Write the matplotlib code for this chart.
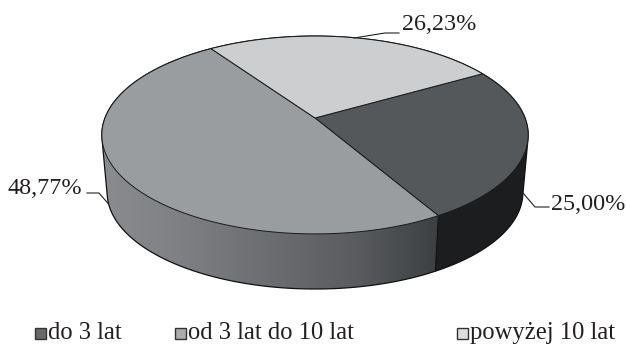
import numpy as np
import matplotlib
matplotlib.use("Agg")
import matplotlib.pyplot as plt
from matplotlib.colors import LinearSegmentedColormap
from matplotlib.patches import Polygon

plt.rcParams['font.family'] = ['Liberation Serif', 'DejaVu Serif']

labels = ['do 3 lat', 'od 3 lat do 10 lat', 'powyżej 10 lat']
values = [25.00, 48.77, 26.23]
value_labels = ['25,00%', '48,77%', '26,23%']
top_colors = ['#54585a', '#9a9da0', '#cdced0']
legend_colors = ['#66686a', '#aaacae', '#dddee0']
start_angle = 30.0

# pie disc in perspective, everything in pixels
apex = (315.0, 118.0)
rx, ry, persp = 210.0, 96.0, 0.1717
depth, shrink = 58.0, 0.975


def rim(angle, lower=False):
    t = np.radians(angle)
    u, v = np.cos(t), np.sin(t)
    w = 1 + persp * v
    x, y = rx * u / w, -ry * v / w
    if lower:
        return apex[0] + x * shrink, apex[1] + depth + y * shrink
    return apex[0] + x, apex[1] + y


def hull(points):
    # monotone chain, the wall outline is the hull of both rims
    pts = sorted(set(map(tuple, points)))

    def half(seq):
        out = []
        for p in seq:
            while len(out) > 1 and np.cross(np.subtract(out[-1], out[-2]), np.subtract(p, out[-2])) <= 0:
                out.pop()
            out.append(p)
        return out[:-1]
    return half(pts) + half(pts[::-1])


fig = plt.figure(figsize=(6.26, 3.45), dpi=100)
ax = fig.add_axes([0, 0, 1, 1])
ax.set_xlim(0, 626)
ax.set_ylim(345, 0)
ax.axis('off')

# wedge limits, clockwise from the start angle
edges = start_angle - np.cumsum([0] + values) * 3.6
seam = edges[1] % 360

# side wall: horizontal gradient clipped to the outline of the disc
angles = np.linspace(0, 360, 361)
outline = hull(np.r_[np.c_[rim(angles)], np.c_[rim(angles, True)]])
wall = Polygon(outline, closed=True, facecolor='none', edgecolor='#111111', lw=0.9, zorder=2)
ax.add_patch(wall)

side_cmap = LinearSegmentedColormap.from_list(
    'side', ['#8b8c8f', '#7e7f82', '#6b6d70', '#5a5c5f', '#3c3f41'])
img = ax.imshow(np.linspace(0, 1, 256)[None, :], cmap=side_cmap, extent=(100, 440, 345, 0),
                aspect='auto', zorder=1)
img.set_clip_path(wall)
ax.set_xlim(0, 626)
ax.set_ylim(345, 0)

# darker wall of the first wedge, right of the seam
sx0, sy0 = rim(seam)
sx1, sy1 = rim(seam, True)
dark = Polygon([(sx0, sy0), (sx1, sy1), (sx1, 345), (626, 345), (626, 100), (sx0, 100)],
               closed=True, facecolor='#1c1d1f', edgecolor='none', zorder=1.5)
ax.add_patch(dark)
dark.set_clip_path(wall)
ax.plot([sx0, sx1], [sy0, sy1], color='#111111', lw=0.7, zorder=2)

# top face
for i, color in enumerate(top_colors):
    a = np.linspace(edges[i], edges[i + 1], 200)
    x, y = rim(a)
    ax.fill(np.r_[apex[0], x], np.r_[apex[1], y], facecolor=color, edgecolor='#1a1a1a', lw=0.7, zorder=3)

# value labels with leader lines
ax.plot([523, 535, 549], [193, 207, 207], color='#222222', lw=0.8, zorder=4)
ax.plot([112, 99, 87], [208, 193, 193], color='#222222', lw=0.8, zorder=0.5)
ax.plot([354, 385, 399], [38, 33, 33], color='#222222', lw=0.8, zorder=4)
ax.text(551, 204, value_labels[0], fontsize=17.4, color='#231f20', ha='left', va='center')
ax.text(8, 188, value_labels[1], fontsize=17.4, color='#231f20', ha='left', va='center')
ax.text(402, 24, value_labels[2], fontsize=17.4, color='#231f20', ha='left', va='center')

# legend
legend_x = [35, 175, 457]
for x0, name, color in zip(legend_x, labels, legend_colors):
    ax.add_patch(plt.Rectangle((x0, 328), 11, 11, facecolor=color, edgecolor='#333333', lw=1.0, zorder=4))
    ax.text(x0 + 13, 333, name, fontsize=17.7, color='#231f20', ha='left', va='center')

fig.savefig('out.png', dpi=100)
